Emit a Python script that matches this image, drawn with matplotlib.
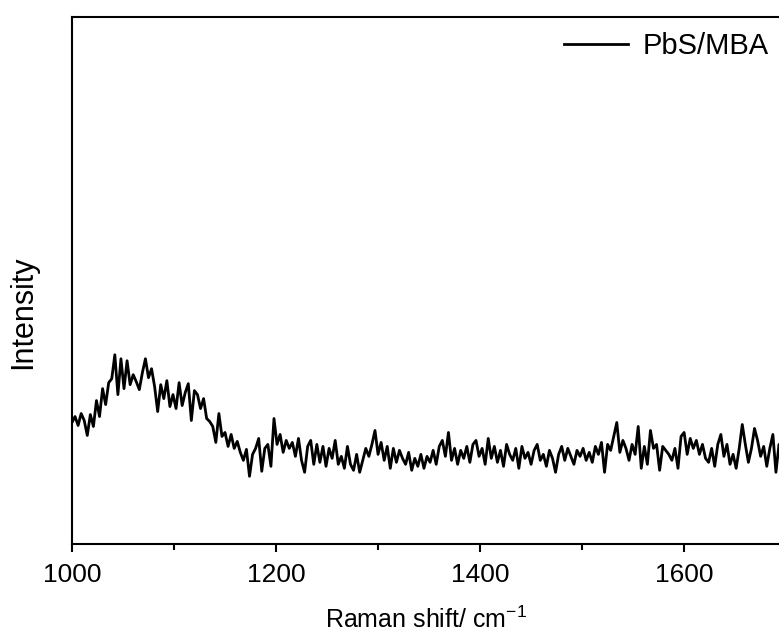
import numpy as np
import matplotlib
matplotlib.use('Agg')
import matplotlib.pyplot as plt
from matplotlib.ticker import MultipleLocator

plt.rcParams['font.family'] = ['Liberation Sans', 'DejaVu Sans']

# Raman shift (cm-1), step 3 from 1000
SHIFT_START, SHIFT_STEP = 1000, 3
# intensity, arbitrary units
intensity = [
    122, 128, 119, 131, 124, 109, 130, 118, 144, 128,
    156, 140, 162, 166, 190, 150, 186, 156, 184, 160,
    170, 163, 155, 172, 186, 167, 176, 158, 133, 160,
    146, 164, 138, 150, 136, 162, 139, 152, 161, 124,
    154, 150, 136, 146, 126, 123, 118, 102, 131, 108,
    112, 98, 110, 96, 103, 92, 84, 95, 68, 90,
    96, 106, 73, 96, 100, 78, 126, 100, 110, 92,
    104, 96, 102, 88, 106, 84, 72, 98, 104, 80,
    100, 82, 98, 78, 96, 86, 104, 80, 88, 76,
    98, 80, 74, 90, 72, 84, 96, 88, 100, 114,
    90, 102, 84, 98, 76, 96, 82, 94, 86, 80,
    92, 74, 86, 78, 90, 76, 88, 82, 94, 80,
    98, 104, 88, 112, 84, 96, 80, 94, 86, 98,
    82, 100, 104, 88, 96, 80, 106, 86, 98, 82,
    94, 78, 100, 90, 84, 96, 76, 98, 86, 92,
    80, 94, 100, 84, 90, 78, 94, 86, 72, 90,
    98, 84, 96, 88, 80, 94, 88, 96, 84, 92,
    82, 98, 90, 102, 72, 100, 94, 108, 122, 92,
    104, 96, 84, 100, 90, 118, 76, 98, 80, 114,
    96, 100, 74, 98, 94, 90, 84, 96, 76, 108,
    112, 90, 106, 96, 104, 90, 100, 86, 82, 96,
    78, 100, 110, 88, 100, 80, 90, 76, 96, 120,
    100, 82, 96, 116, 104, 88, 98, 78, 96, 110,
    72, 100, 92,
]
shift = SHIFT_START + SHIFT_STEP * np.arange(len(intensity))

fig = plt.figure(figsize=(7.79, 6.35), dpi=100)
ax = fig.add_axes([0.0924, 0.1433, 0.9076, 0.8297])
ax.plot(shift, intensity, color='black', linewidth=2.0, label='PbS/MBA')

ax.set_xlim(1000, 1693)
ax.set_ylim(0, 529)
ax.xaxis.set_major_locator(MultipleLocator(200))
ax.xaxis.set_minor_locator(MultipleLocator(100))
ax.set_yticks([])
ax.tick_params(axis='x', which='major', direction='out', length=6, width=1.5,
               labelsize=19, pad=8)
ax.tick_params(axis='x', which='minor', direction='out', length=4, width=1.5)
for side in ['left', 'top', 'bottom']:
    ax.spines[side].set_linewidth(1.5)
ax.spines['right'].set_visible(False)

ax.set_xlabel('Raman shift/ cm$^{\\mathregular{-1}}$', fontsize=18, labelpad=14)
ax.set_ylabel('Intensity', fontsize=22)
ax.yaxis.set_label_coords(-0.048, 0.44)

ax.legend(loc='center right', bbox_to_anchor=(769 / 779, 1 - 46 / 635),
          bbox_transform=fig.transFigure, frameon=False, fontsize=21,
          handlelength=2.2, handletextpad=0.5, borderpad=0, borderaxespad=0)

fig.savefig('out.png', dpi=100)
